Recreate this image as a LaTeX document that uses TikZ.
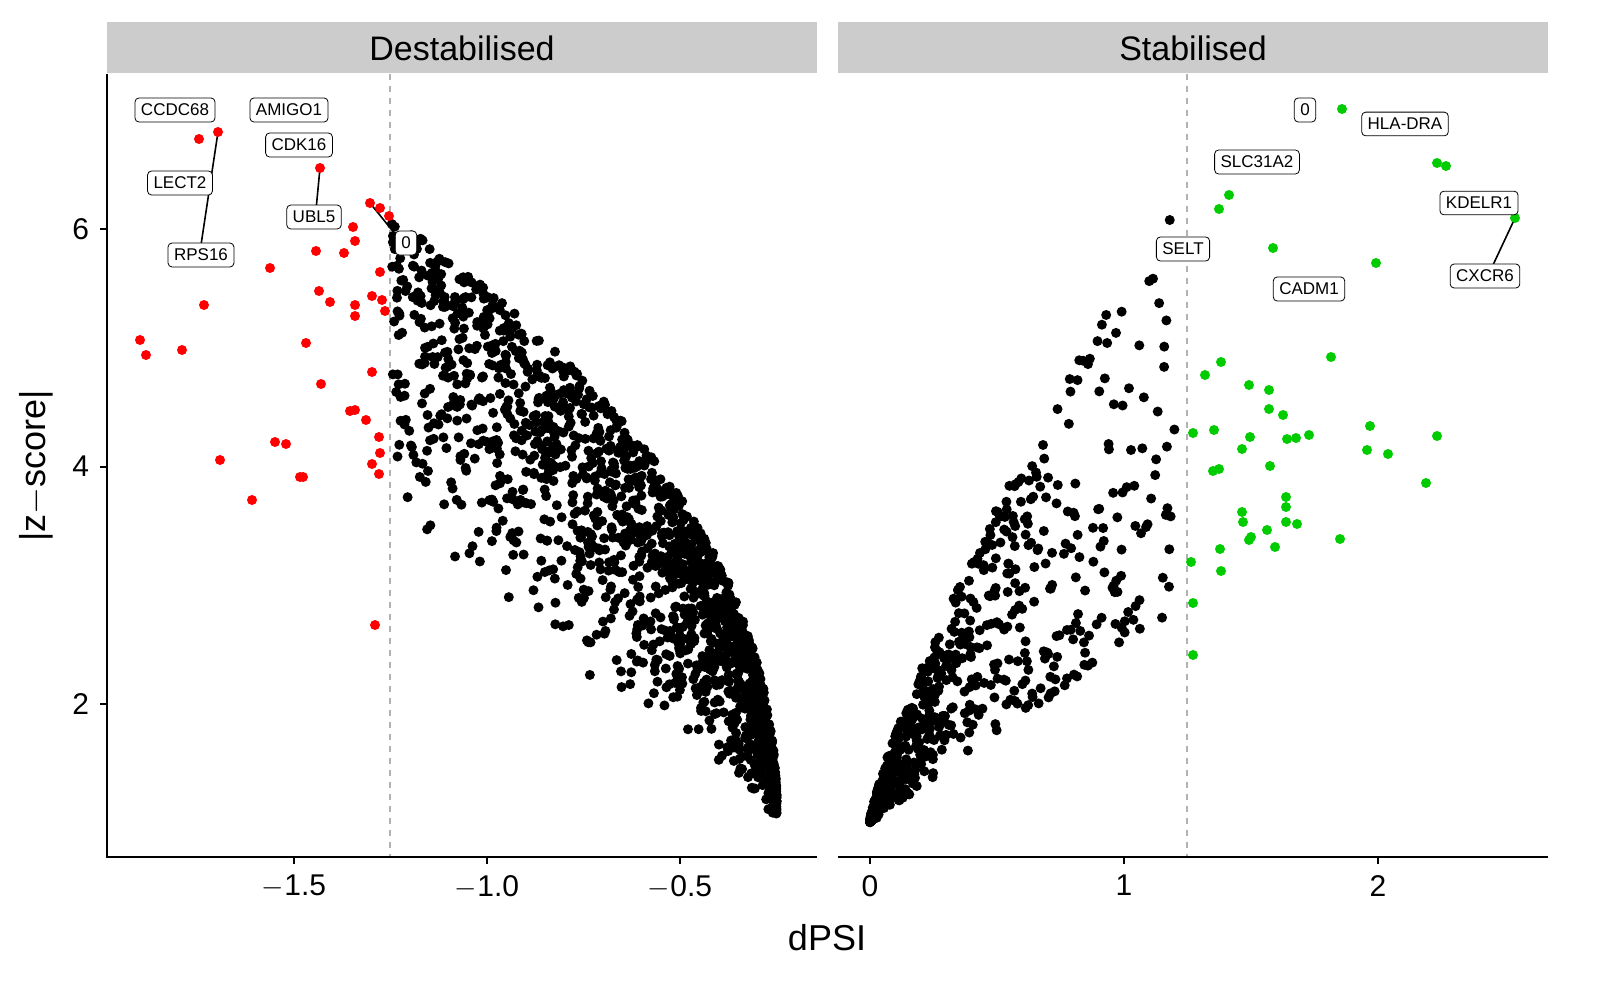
\documentclass[tikz,border=0pt]{standalone}
\usepackage{fontspec}
\setmainfont{Liberation Sans}
\tikzset{
  pt/.style={fill=black},
  lab/.style={draw,rounded corners=2pt,fill=white,font=\fontsize{8.5}{10}\selectfont,inner sep=3pt,line width=0.4pt},
  strip/.style={fill=black!20,draw=none},
  tick/.style={font=\fontsize{15}{18}\selectfont}
}
\begin{document}
\begin{tikzpicture}[x=0.5pt,y=-0.5pt]
  \useasboundingbox (0,0) rectangle (1600,1000);
  \pgfmathsetseed{7}
  % strips
  \fill[strip] (107,22) rectangle (817,73);
  \fill[strip] (838,22) rectangle (1548,73);
  \node[font=\fontsize{17}{20}\selectfont] (destab) at (462,48) {Destabilised};
  \node[font=\fontsize{17}{20}\selectfont] (stab) at (1193,48) {Stabilised};
  % thresholds
  \draw[black!30,dashed,line width=0.8pt] (390,74) -- (390,857);
  \draw[black!30,dashed,line width=0.8pt] (1187,74) -- (1187,857);
  % black clouds
  \foreach \i in {1,...,1600}{
    \pgfmathsetmacro\a{rnd^1.6}
    \pgfmathsetmacro\u{1+5.1*(\a+0.001)^0.45}
    \pgfmathsetmacro\l{1+2.5*\a}
    \pgfmathsetmacro\z{\l+(\u-\l)*rnd^0.5}
    \fill[pt] ({680+(0.25-\a)*386},{704-(\z-2)*118.75}) circle[radius=2.5pt];
  }
  \foreach \i in {1,...,700}{
    \pgfmathsetmacro\d{1.2*rnd^2.3}
    \pgfmathsetmacro\u{1+4.6*(\d+0.001)^0.8}
    \pgfmathsetmacro\l{1+1.5*\d}
    \pgfmathsetmacro\z{\l+(\u-\l)*rnd^(0.6+0.8*\d)}
    \fill[pt] ({870+\d*254},{704-(\z-2)*118.75}) circle[radius=2.5pt];
  }
  % label connectors
  \coordinate (lect) at (218,132);
  \coordinate (ubl) at (320,168);
  \coordinate (zl) at (370,203);
  \coordinate (cxc) at (1515,218);
  \draw[line width=0.8pt] (lect) -- (201,245);
  \draw[line width=0.8pt] (ubl) -- (316,210);
  \draw[line width=0.8pt] (zl) -- (400,240);
  \draw[line width=0.8pt] (cxc) -- (1493,265);
  % significant points
  \foreach \x/\y in {199/139,218/132,320/168,370/203,380/208,389/216,140/340,146/355,182/350,204/305,220/460,252/500,270/268,275/442,286/444,300/477,303/477,306/343,316/251,319/291,321/384,330/302,344/253,353/227,355/241,355/305,355/316,350/411,355/410,366/420,372/296,372/372,375/625,372/464,379/437,380/453,379/474,380/272,382/300,385/311}
    \fill[red] (\x,\y) circle[radius=2.5pt];
  \foreach \x/\y in {1342/109,1437/163,1446/166,1515/218,1219/209,1229/195,1273/248,1376/263,1331/357,1205/375,1221/362,1193/433,1214/430,1213/471,1219/469,1250/437,1249/385,1269/390,1269/409,1283/415,1296/438,1287/439,1309/435,1242/449,1270/466,1286/497,1286/507,1286/522,1297/524,1267/530,1243/522,1242/512,1249/540,1251/537,1275/547,1340/539,1370/426,1367/450,1388/454,1426/483,1437/436,1220/549,1221/571,1191/562,1193/603,1193/655}
    \fill[green!80!black] (\x,\y) circle[radius=2.5pt];
  % labels
  \node[lab] (ccdc) at (175,110) {CCDC68};
  \node[lab] (amigo) at (289,110) {AMIGO1};
  \node[lab] (cdk) at (299,145) {CDK16};
  \node[lab] (lect2) at (180,183) {LECT2};
  \node[lab] (rps) at (201,255) {RPS16};
  \node[lab] (ubl5) at (314,217) {UBL5};
  \node[lab] (zero1) at (406,243) {0};
  \node[lab] (zero2) at (1305,110) {0};
  \node[lab] (hla) at (1405,124) {HLA-DRA};
  \node[lab] (slc) at (1257,162) {SLC31A2};
  \node[lab] (kdel) at (1479,203) {KDELR1};
  \node[lab] (selt) at (1183,249) {SELT};
  \node[lab] (cadm) at (1309,289) {CADM1};
  \node[lab] (cxcr) at (1485,276) {CXCR6};
  % axes
  \draw[line width=1pt] (107,74) -- (107,857) -- (817,857);
  \draw[line width=1pt] (838,857) -- (1548,857);
  \foreach \v in {2,4,6}{
    \draw[line width=1pt] (100,{704-(\v-2)*118.75}) -- (107,{704-(\v-2)*118.75});
    \node[tick,anchor=east] at (96,{704-(\v-2)*118.75}) {\v};
  }
  \foreach \v/\t in {-1.5/$-$1.5,-1.0/$-$1.0,-0.5/$-$0.5}{
    \draw[line width=1pt] ({680+(\v+0.5)*386},857) -- ({680+(\v+0.5)*386},864);
    \node[tick,anchor=north] at ({680+(\v+0.5)*386},868) {\t};
  }
  \foreach \v in {0,1,2}{
    \draw[line width=1pt] ({870+\v*254},857) -- ({870+\v*254},864);
    \node[tick,anchor=north] at ({870+\v*254},868) {\v};
  }
  \node[font=\fontsize{18}{21}\selectfont] (xlab) at (827,938) {dPSI};
  \node[font=\fontsize{18}{21}\selectfont,rotate=90] (ylab) at (36,466) {|z$-$score|};
\end{tikzpicture}
\end{document}
